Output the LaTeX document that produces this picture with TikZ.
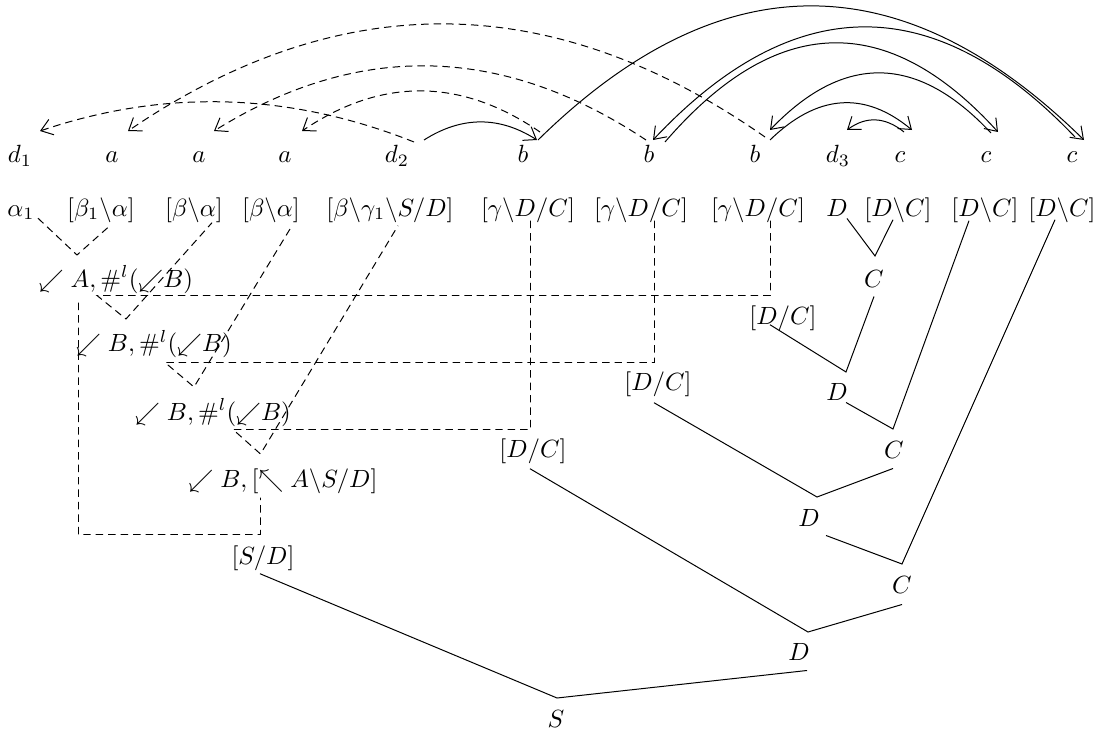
\documentclass[tikz,border=0pt]{standalone}
\usetikzlibrary{arrows.meta,calc}
\newcommand\qarc[4]{\draw[#1] (#2) .. controls ($(#2)!2/3!(#3)$) and ($(#4)!2/3!(#3)$) .. (#4);}
\begin{document}
\begin{tikzpicture}[x=0.4016pt,y=-0.4016pt,
  lbl/.style={anchor=base,inner sep=0pt},
  dsh/.style={dash pattern=on 3pt off 2pt},
  tip/.style={-{Straight Barb[length=4.5pt,width=6.5pt]}}]
\useasboundingbox (0,0) rectangle (1101,731);
% words
\foreach \n/\x/\t in {d1/20/d_1, a1/112/a, a2/199/a, a3/285/a, d2/397/d_2, b1/523/b, b2/649/b, b3/755/b, d3/838/d_3, c1/900/c, c2/986/c, c3/1072/c}
  \node[lbl] (\n) at (\x,163) {$\t$};
% categories
\node[lbl] (k0) at (21,216) {$\alpha_1$};
\node[lbl] (k1) at (101,216) {$[\beta_1\backslash\alpha]$};
\node[lbl] (k2) at (194,216) {$[\beta\backslash\alpha]$};
\node[lbl] (k3) at (271,216) {$[\beta\backslash\alpha]$};
\node[lbl] (k4) at (390,216) {$[\beta\backslash\gamma_1\backslash S/D]$};
\node[lbl] (k5) at (528,216) {$[\gamma\backslash D/C]$};
\node[lbl] (k6) at (641,216) {$[\gamma\backslash D/C]$};
\node[lbl] (k7) at (758,216) {$[\gamma\backslash D/C]$};
\node[lbl] (k8) at (837,216) {$D$};
\node[lbl] (k9) at (898,216) {$[D\backslash C]$};
\node[lbl] (k10) at (985,216) {$[D\backslash C]$};
\node[lbl] (k11) at (1062,216) {$[D\backslash C]$};
% left tree
\node[lbl] (n1) at (116,287) {$\swarrow A,\#^l({\swarrow}B)$};
\node[lbl] (n2) at (154,352) {$\swarrow B,\#^l({\swarrow}B)$};
\node[lbl] (n3) at (213,420) {$\swarrow B,\#^l({\swarrow}B)$};
\node[lbl] (n4) at (283,487) {$\swarrow B,[\nwarrow A\backslash S/D]$};
\node[lbl] (sd) at (263,564) {$[S/D]$};
\node[lbl] (s) at (556,727) {$S$};
% right tree
\node[lbl] (C1) at (874,287) {$C$};
\node[lbl] (DCa) at (783,324) {$[D/C]$};
\node[lbl] (D1) at (837,401) {$D$};
\node[lbl] (DCb) at (658,391) {$[D/C]$};
\node[lbl] (C2) at (894,458) {$C$};
\node[lbl] (DCc) at (533,457) {$[D/C]$};
\node[lbl] (D2) at (809,526) {$D$};
\node[lbl] (C3) at (902,593) {$C$};
\node[lbl] (D3) at (799,660) {$D$};
% junctions
\coordinate (P1) at (77,255);  \coordinate (P2) at (126,319);
\coordinate (P3) at (194,387); \coordinate (P4) at (260.5,454);
\coordinate (Q1) at (97,295.5);  \coordinate (Q2) at (165,362.5); \coordinate (Q3) at (233,429.5);
\coordinate (H1) at (770.5,295.5); \coordinate (H2) at (654.5,362.5); \coordinate (H3) at (530.5,429.5);
\coordinate (V1) at (78.5,534.5);  \coordinate (V2) at (260.5,534.5);
\coordinate (A1) at (875,256); \coordinate (A2) at (846,372); \coordinate (A3) at (893,429);
\coordinate (A4) at (817,497); \coordinate (A5) at (902,564); \coordinate (A6) at (808,632);
\coordinate (A7) at (557,698);
% dashed tree
\draw[dsh] ($(k0.south)+(17,-2)$) -- (P1) -- ($(k1.south)+(10,2)$);
\draw[dsh] ($(k7.south)+(12.5,-2)$) -- (H1) -- (Q1) -- (P2) -- ($(k2.south)+(18,0)$);
\draw[dsh] ($(k6.south)+(13.5,-2)$) -- (H2) -- (Q2) -- (P3) -- ($(k3.south)+(21,3)$);
\draw[dsh] ($(k5.south)+(2.5,-2)$) -- (H3) -- (Q3) -- (P4) -- ($(k4.south)+(8,3)$);
\draw[dsh] ($(n1.south)+(-37.5,9)$) -- (V1) -- (V2) -- ($(n4.south)+(-22.5,4)$);
% solid tree
\draw ($(k8.south)+(10,2)$) -- (A1) -- ($(k9.south)+(-5,-3)$);
\draw ($(C1.south)+(0,9)$) -- (A2) -- ($(DCa.south)+(-13,-6)$);
\draw ($(D1.south)+(9,1)$) -- (A3) -- ($(k10.south)+(-16,-2)$);
\draw ($(C2.south)+(-1,10)$) -- (A4) -- ($(DCb.south)+(-4,5)$);
\draw ($(D2.south)+(17,9)$) -- (A5) -- ($(k11.south)+(-7,-3)$);
\draw ($(C3.south)+(0,11)$) -- (A6) -- ($(DCc.south)+(-3,5)$);
\draw ($(D3.south)+(8,10)$) -- (A7) -- ($(sd.south)+(-3,3)$);
% arc ends
\coordinate (x1s) at (414,142); \coordinate (x1q) at (227,67.5);  \coordinate (x1e) at (40,131);
\coordinate (x2s) at (765,137); \coordinate (x2q) at (446.5,-86); \coordinate (x2e) at (128,131);
\coordinate (x3s) at (646,140); \coordinate (x3q) at (430,-3.5);  \coordinate (x3e) at (214,131);
\coordinate (x4s) at (540,132); \coordinate (x4q) at (421,50.5);  \coordinate (x4e) at (302,131);
\coordinate (y1s) at (424,140); \coordinate (y1q) at (480.5,104); \coordinate (y1e) at (537,140);
\coordinate (y2s) at (538,140); \coordinate (y2q) at (811,-128);  \coordinate (y2e) at (1084,140);
\coordinate (y3s) at (1075,137);\coordinate (y3q) at (864,-84.5); \coordinate (y3e) at (653,140);
\coordinate (y4s) at (665,142); \coordinate (y4q) at (831.5,-51); \coordinate (y4e) at (998,132);
\coordinate (y5s) at (991,133); \coordinate (y5q) at (880.5,14.5);\coordinate (y5e) at (770,130);
\coordinate (y6s) at (770,140); \coordinate (y6q) at (841,71);    \coordinate (y6e) at (912,130);
\coordinate (y7s) at (904,132); \coordinate (y7q) at (875.5,109); \coordinate (y7e) at (847,130);
\qarc{dsh,tip}{x1s}{x1q}{x1e}
\qarc{dsh,tip}{x2s}{x2q}{x2e}
\qarc{dsh,tip}{x3s}{x3q}{x3e}
\qarc{dsh,tip}{x4s}{x4q}{x4e}
\qarc{tip}{y1s}{y1q}{y1e}
\qarc{tip}{y2s}{y2q}{y2e}
\qarc{tip}{y3s}{y3q}{y3e}
\qarc{tip}{y4s}{y4q}{y4e}
\qarc{tip}{y5s}{y5q}{y5e}
\qarc{tip}{y6s}{y6q}{y6e}
\qarc{tip}{y7s}{y7q}{y7e}
\end{tikzpicture}
\end{document}
